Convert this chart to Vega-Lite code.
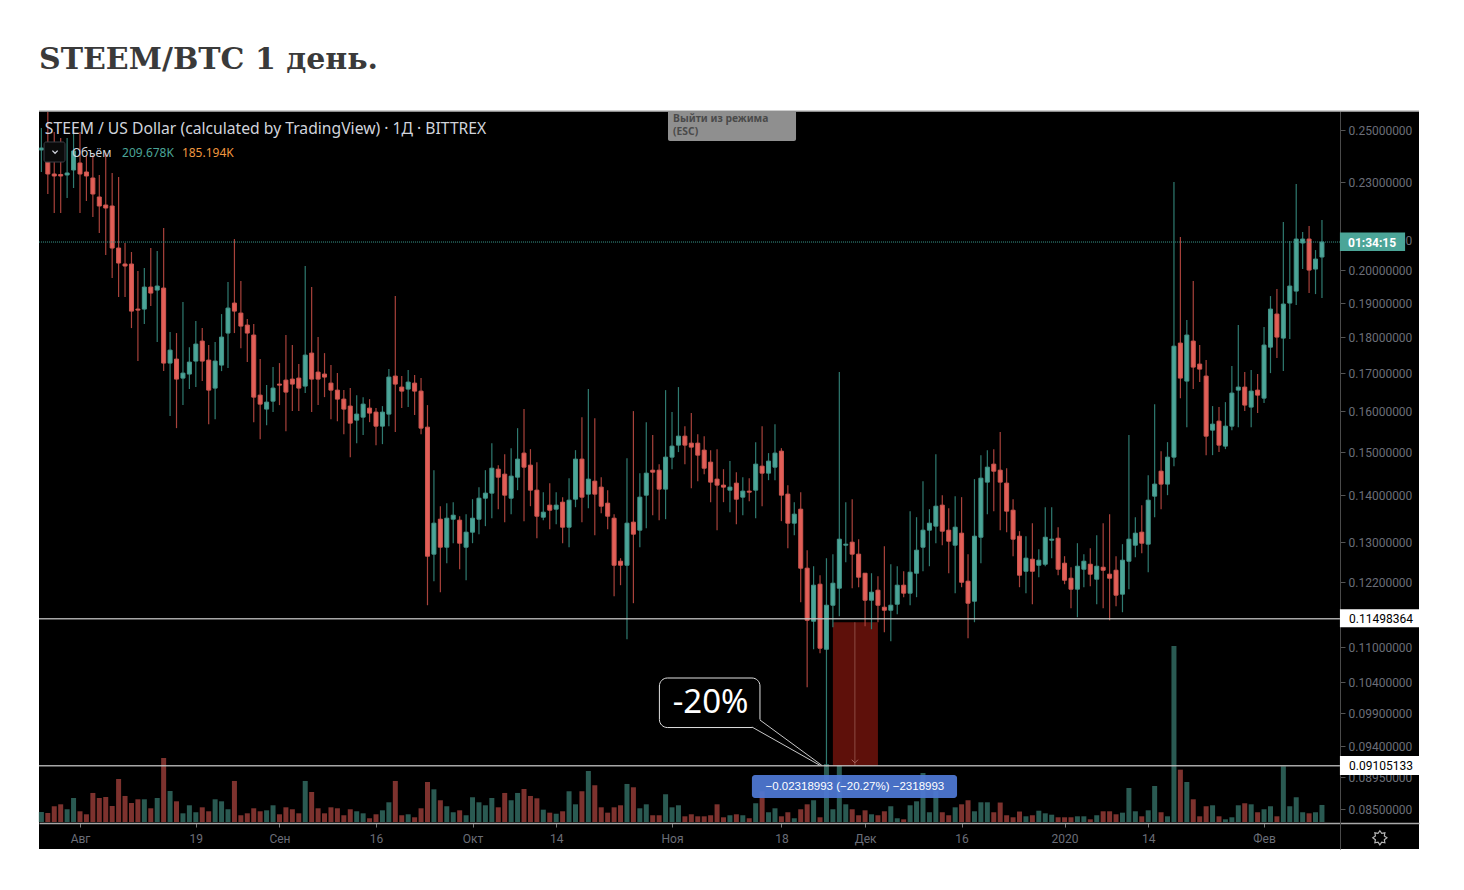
{
"$schema":"https://vega.github.io/schema/vega-lite/v6.json",
"autosize":"none",
"padding":{"left":39,"top":111,"right":45,"bottom":41},
"width":1380,
"height":738,
"background":"#ffffff",
"view":{"fill":"#000000","stroke":null},
"title":{"text":"STEEM/BTC 1 день.","anchor":"start","frame":"group","font":"DejaVu Serif","fontSize":30,"fontWeight":"bold","color":"#3a3a3a","offset":35},
"datasets":{"candles":[
{"date":"2019-07-26","open":0.24218,"high":0.2508,"low":0.23386,"close":0.24295,"volume":123},
{"date":"2019-07-27","open":0.2376,"high":0.25726,"low":0.22582,"close":0.23312,"volume":111},
{"date":"2019-07-28","open":0.23312,"high":0.2492,"low":0.2191,"close":0.23238,"volume":194},
{"date":"2019-07-29","open":0.23294,"high":0.24684,"low":0.2191,"close":0.23238,"volume":218},
{"date":"2019-07-30","open":0.23275,"high":0.24684,"low":0.2244,"close":0.23349,"volume":157},
{"date":"2019-07-31","open":0.2346,"high":0.2512,"low":0.22798,"close":0.2418,"volume":296},
{"date":"2019-08-01","open":0.23723,"high":0.2492,"low":0.2191,"close":0.23312,"volume":132},
{"date":"2019-08-02","open":0.23386,"high":0.24027,"low":0.22333,"close":0.23238,"volume":95},
{"date":"2019-08-03","open":0.23164,"high":0.24027,"low":0.21772,"close":0.22582,"volume":358},
{"date":"2019-08-04","open":0.22476,"high":0.23275,"low":0.21224,"close":0.22156,"volume":296},
{"date":"2019-08-05","open":0.22191,"high":0.24104,"low":0.20494,"close":0.22085,"volume":308},
{"date":"2019-08-06","open":0.22156,"high":0.23349,"low":0.19759,"close":0.20725,"volume":197},
{"date":"2019-08-07","open":0.20725,"high":0.23201,"low":0.19171,"close":0.20237,"volume":530},
{"date":"2019-08-08","open":0.20205,"high":0.20891,"low":0.19171,"close":0.20141,"volume":321},
{"date":"2019-08-09","open":0.20205,"high":0.20594,"low":0.1825,"close":0.18749,"volume":234},
{"date":"2019-08-10","open":0.18809,"high":0.1998,"low":0.17318,"close":0.18779,"volume":280},
{"date":"2019-08-11","open":0.18809,"high":0.20076,"low":0.18366,"close":0.19479,"volume":280},
{"date":"2019-08-12","open":0.19479,"high":0.20725,"low":0.189,"close":0.19294,"volume":169},
{"date":"2019-08-13","open":0.19386,"high":0.20626,"low":0.17849,"close":0.1951,"volume":296},
{"date":"2019-08-14","open":0.19448,"high":0.21394,"low":0.17044,"close":0.17263,"volume":789},
{"date":"2019-08-15","open":0.17263,"high":0.18134,"low":0.15868,"close":0.17622,"volume":382},
{"date":"2019-08-16","open":0.17372,"high":0.18106,"low":0.15568,"close":0.16829,"volume":255},
{"date":"2019-08-17","open":0.16856,"high":0.1902,"low":0.16148,"close":0.1699,"volume":107},
{"date":"2019-08-18","open":0.16964,"high":0.17705,"low":0.16564,"close":0.1729,"volume":206},
{"date":"2019-08-19","open":0.17318,"high":0.18454,"low":0.16617,"close":0.17792,"volume":120},
{"date":"2019-08-20","open":0.17877,"high":0.1825,"low":0.16776,"close":0.17318,"volume":181},
{"date":"2019-08-21","open":0.17345,"high":0.17763,"low":0.15667,"close":0.16537,"volume":132},
{"date":"2019-08-22","open":0.1659,"high":0.17849,"low":0.15792,"close":0.17318,"volume":280},
{"date":"2019-08-23","open":0.17208,"high":0.18661,"low":0.17044,"close":0.17991,"volume":255},
{"date":"2019-08-24","open":0.18106,"high":0.19635,"low":0.17126,"close":0.18839,"volume":157},
{"date":"2019-08-25","open":0.1899,"high":0.21023,"low":0.18106,"close":0.18749,"volume":506},
{"date":"2019-08-26","open":0.1869,"high":0.19666,"low":0.17678,"close":0.18308,"volume":83},
{"date":"2019-08-27","open":0.18337,"high":0.18513,"low":0.1729,"close":0.18106,"volume":107},
{"date":"2019-08-28","open":0.18049,"high":0.18366,"low":0.15717,"close":0.16354,"volume":169},
{"date":"2019-08-29","open":0.16406,"high":0.17372,"low":0.15298,"close":0.16173,"volume":132},
{"date":"2019-08-30","open":0.16046,"high":0.16669,"low":0.15642,"close":0.16225,"volume":144},
{"date":"2019-08-31","open":0.1625,"high":0.17153,"low":0.15969,"close":0.1659,"volume":206},
{"date":"2019-09-01","open":0.16696,"high":0.17263,"low":0.16148,"close":0.16669,"volume":95},
{"date":"2019-09-02","open":0.16802,"high":0.18049,"low":0.15494,"close":0.16485,"volume":181},
{"date":"2019-09-03","open":0.16829,"high":0.17763,"low":0.15995,"close":0.16696,"volume":157},
{"date":"2019-09-04","open":0.16856,"high":0.17235,"low":0.15995,"close":0.1659,"volume":107},
{"date":"2019-09-05","open":0.16643,"high":0.20141,"low":0.16459,"close":0.17483,"volume":506},
{"date":"2019-09-06","open":0.17539,"high":0.19479,"low":0.15969,"close":0.16829,"volume":370},
{"date":"2019-09-07","open":0.17017,"high":0.17991,"low":0.16148,"close":0.16829,"volume":169},
{"date":"2019-09-08","open":0.16964,"high":0.17539,"low":0.16354,"close":0.16883,"volume":107},
{"date":"2019-09-09","open":0.16722,"high":0.17208,"low":0.15792,"close":0.16537,"volume":181},
{"date":"2019-09-10","open":0.16537,"high":0.1699,"low":0.15742,"close":0.16302,"volume":169},
{"date":"2019-09-11","open":0.16302,"high":0.16537,"low":0.1542,"close":0.16046,"volume":83},
{"date":"2019-09-12","open":0.16123,"high":0.1659,"low":0.14867,"close":0.15692,"volume":157},
{"date":"2019-09-13","open":0.15767,"high":0.16406,"low":0.15201,"close":0.15919,"volume":132},
{"date":"2019-09-14","open":0.15842,"high":0.16354,"low":0.15396,"close":0.16173,"volume":107},
{"date":"2019-09-15","open":0.16071,"high":0.16302,"low":0.15717,"close":0.15944,"volume":46},
{"date":"2019-09-16","open":0.15969,"high":0.16071,"low":0.15153,"close":0.15617,"volume":95},
{"date":"2019-09-17","open":0.15617,"high":0.16123,"low":0.15177,"close":0.15969,"volume":144},
{"date":"2019-09-18","open":0.15919,"high":0.17098,"low":0.15617,"close":0.16883,"volume":243},
{"date":"2019-09-19","open":0.1691,"high":0.19202,"low":0.1547,"close":0.16696,"volume":506},
{"date":"2019-09-20","open":0.16617,"high":0.1691,"low":0.16071,"close":0.16511,"volume":83},
{"date":"2019-09-21","open":0.16564,"high":0.17071,"low":0.16097,"close":0.16749,"volume":95},
{"date":"2019-09-22","open":0.16722,"high":0.16937,"low":0.15894,"close":0.16511,"volume":58},
{"date":"2019-09-23","open":0.16511,"high":0.16856,"low":0.1542,"close":0.15568,"volume":169},
{"date":"2019-09-24","open":0.15592,"high":0.16148,"low":0.1175,"close":0.12702,"volume":493},
{"date":"2019-09-25","open":0.12743,"high":0.14562,"low":0.12207,"close":0.13386,"volume":403},
{"date":"2019-09-26","open":0.13471,"high":0.13752,"low":0.11996,"close":0.12885,"volume":268},
{"date":"2019-09-27","open":0.12885,"high":0.13818,"low":0.12561,"close":0.13492,"volume":194},
{"date":"2019-09-28","open":0.13471,"high":0.1384,"low":0.12967,"close":0.13557,"volume":120},
{"date":"2019-09-29","open":0.1345,"high":0.13535,"low":0.12442,"close":0.12967,"volume":144},
{"date":"2019-09-30","open":0.12885,"high":0.13579,"low":0.12226,"close":0.13196,"volume":83},
{"date":"2019-10-01","open":0.13196,"high":0.13906,"low":0.12967,"close":0.13492,"volume":305},
{"date":"2019-10-02","open":0.13471,"high":0.14175,"low":0.13154,"close":0.13928,"volume":243},
{"date":"2019-10-03","open":0.13928,"high":0.14562,"low":0.13323,"close":0.1404,"volume":206},
{"date":"2019-10-04","open":0.1404,"high":0.15201,"low":0.13492,"close":0.14608,"volume":296},
{"date":"2019-10-05","open":0.14585,"high":0.14679,"low":0.13687,"close":0.14401,"volume":181},
{"date":"2019-10-06","open":0.1447,"high":0.14938,"low":0.13408,"close":0.13995,"volume":358},
{"date":"2019-10-07","open":0.13928,"high":0.15081,"low":0.13579,"close":0.14424,"volume":268},
{"date":"2019-10-08","open":0.14401,"high":0.15567,"low":0.14107,"close":0.1482,"volume":358},
{"date":"2019-10-09","open":0.14962,"high":0.16046,"low":0.13429,"close":0.14632,"volume":407},
{"date":"2019-10-10","open":0.14679,"high":0.15057,"low":0.13752,"close":0.14107,"volume":321},
{"date":"2019-10-11","open":0.14107,"high":0.14749,"low":0.13071,"close":0.13535,"volume":292},
{"date":"2019-10-12","open":0.13514,"high":0.14062,"low":0.1345,"close":0.13622,"volume":152},
{"date":"2019-10-13","open":0.13775,"high":0.14265,"low":0.13259,"close":0.13665,"volume":115},
{"date":"2019-10-14","open":0.13687,"high":0.14062,"low":0.13365,"close":0.13775,"volume":102},
{"date":"2019-10-15","open":0.1384,"high":0.13951,"low":0.12967,"close":0.13301,"volume":132},
{"date":"2019-10-16","open":0.13301,"high":0.14378,"low":0.12885,"close":0.13884,"volume":379},
{"date":"2019-10-17","open":0.13906,"high":0.15033,"low":0.1373,"close":0.1482,"volume":218},
{"date":"2019-10-18","open":0.1482,"high":0.15842,"low":0.13408,"close":0.13951,"volume":379},
{"date":"2019-10-19","open":0.14018,"high":0.16564,"low":0.13708,"close":0.14356,"volume":629},
{"date":"2019-10-20","open":0.1431,"high":0.15817,"low":0.13133,"close":0.14018,"volume":453},
{"date":"2019-10-21","open":0.14175,"high":0.14401,"low":0.136,"close":0.13752,"volume":181},
{"date":"2019-10-22","open":0.13818,"high":0.14107,"low":0.13259,"close":0.13535,"volume":115},
{"date":"2019-10-23","open":0.13492,"high":0.13579,"low":0.1192,"close":0.12521,"volume":181},
{"date":"2019-10-24","open":0.12601,"high":0.12662,"low":0.1213,"close":0.12521,"volume":206},
{"date":"2019-10-25","open":0.12521,"high":0.14843,"low":0.11132,"close":0.13386,"volume":469},
{"date":"2019-10-26","open":0.13408,"high":0.15995,"low":0.11788,"close":0.13154,"volume":428},
{"date":"2019-10-27","open":0.13238,"high":0.14493,"low":0.12885,"close":0.13951,"volume":169},
{"date":"2019-10-28","open":0.13995,"high":0.15717,"low":0.1328,"close":0.14493,"volume":218},
{"date":"2019-10-29","open":0.14562,"high":0.15396,"low":0.13557,"close":0.14516,"volume":83},
{"date":"2019-10-30","open":0.14562,"high":0.14702,"low":0.1345,"close":0.1413,"volume":83},
{"date":"2019-10-31","open":0.1413,"high":0.16537,"low":0.13471,"close":0.14867,"volume":342},
{"date":"2019-11-01","open":0.14867,"high":0.15969,"low":0.14585,"close":0.15129,"volume":181},
{"date":"2019-11-02","open":0.15153,"high":0.16617,"low":0.14986,"close":0.15371,"volume":206},
{"date":"2019-11-03","open":0.15371,"high":0.15617,"low":0.14702,"close":0.15153,"volume":70},
{"date":"2019-11-04","open":0.15201,"high":0.15944,"low":0.14152,"close":0.15105,"volume":95},
{"date":"2019-11-05","open":0.15201,"high":0.1542,"low":0.1431,"close":0.14914,"volume":70},
{"date":"2019-11-06","open":0.15033,"high":0.15371,"low":0.1447,"close":0.14608,"volume":70},
{"date":"2019-11-07","open":0.14749,"high":0.15033,"low":0.1384,"close":0.14288,"volume":83},
{"date":"2019-11-08","open":0.14356,"high":0.15057,"low":0.13238,"close":0.1422,"volume":218},
{"date":"2019-11-09","open":0.1422,"high":0.14585,"low":0.1384,"close":0.14175,"volume":58},
{"date":"2019-11-10","open":0.14107,"high":0.14773,"low":0.13622,"close":0.14175,"volume":83},
{"date":"2019-11-11","open":0.14265,"high":0.14516,"low":0.13365,"close":0.13906,"volume":95},
{"date":"2019-11-12","open":0.13951,"high":0.14401,"low":0.13557,"close":0.14085,"volume":83},
{"date":"2019-11-13","open":0.14085,"high":0.14378,"low":0.13862,"close":0.14062,"volume":46},
{"date":"2019-11-14","open":0.14107,"high":0.15225,"low":0.13492,"close":0.14702,"volume":231},
{"date":"2019-11-15","open":0.14655,"high":0.15617,"low":0.13752,"close":0.14493,"volume":379},
{"date":"2019-11-16","open":0.14493,"high":0.14962,"low":0.14333,"close":0.14773,"volume":120},
{"date":"2019-11-17","open":0.14632,"high":0.15667,"low":0.14333,"close":0.14962,"volume":169},
{"date":"2019-11-18","open":0.15009,"high":0.15081,"low":0.13429,"close":0.13995,"volume":70},
{"date":"2019-11-19","open":0.14018,"high":0.1422,"low":0.12865,"close":0.13386,"volume":120},
{"date":"2019-11-20","open":0.13386,"high":0.1384,"low":0.13133,"close":0.13579,"volume":46},
{"date":"2019-11-21","open":0.13687,"high":0.14062,"low":0.11807,"close":0.12462,"volume":157},
{"date":"2019-11-22","open":0.12462,"high":0.12824,"low":0.10314,"close":0.11473,"volume":218},
{"date":"2019-11-23","open":0.11455,"high":0.12501,"low":0.10956,"close":0.1213,"volume":268},
{"date":"2019-11-24","open":0.12149,"high":0.12324,"low":0.10887,"close":0.10974,"volume":58},
{"date":"2019-11-25","open":0.10956,"high":0.12661,"low":0.09087,"close":0.1175,"volume":715},
{"date":"2019-11-26","open":0.1175,"high":0.12743,"low":0.11346,"close":0.12168,"volume":157},
{"date":"2019-11-27","open":0.12072,"high":0.17017,"low":0.11547,"close":0.1305,"volume":699},
{"date":"2019-11-28","open":0.12926,"high":0.1384,"low":0.12581,"close":0.12947,"volume":218},
{"date":"2019-11-29","open":0.12988,"high":0.13906,"low":0.12072,"close":0.12743,"volume":157},
{"date":"2019-11-30","open":0.12743,"high":0.1305,"low":0.12091,"close":0.12285,"volume":83},
{"date":"2019-12-01","open":0.12363,"high":0.12363,"low":0.11365,"close":0.11844,"volume":144},
{"date":"2019-12-02","open":0.11844,"high":0.12363,"low":0.1131,"close":0.11996,"volume":95},
{"date":"2019-12-03","open":0.12034,"high":0.12304,"low":0.11437,"close":0.1175,"volume":83},
{"date":"2019-12-04","open":0.11713,"high":0.12906,"low":0.11256,"close":0.11657,"volume":132},
{"date":"2019-12-05","open":0.11657,"high":0.12541,"low":0.11096,"close":0.1175,"volume":194},
{"date":"2019-12-06","open":0.11769,"high":0.12501,"low":0.11583,"close":0.1213,"volume":46},
{"date":"2019-12-07","open":0.1213,"high":0.12402,"low":0.11901,"close":0.11977,"volume":33},
{"date":"2019-12-08","open":0.11977,"high":0.13644,"low":0.1175,"close":0.12383,"volume":206},
{"date":"2019-12-09","open":0.12363,"high":0.13514,"low":0.11901,"close":0.12824,"volume":255},
{"date":"2019-12-10","open":0.12885,"high":0.1431,"low":0.12402,"close":0.13238,"volume":604},
{"date":"2019-12-11","open":0.13238,"high":0.13687,"low":0.12501,"close":0.13386,"volume":120},
{"date":"2019-12-12","open":0.13323,"high":0.14938,"low":0.12967,"close":0.13752,"volume":382},
{"date":"2019-12-13","open":0.13775,"high":0.13995,"low":0.12926,"close":0.13217,"volume":120},
{"date":"2019-12-14","open":0.13238,"high":0.13708,"low":0.12363,"close":0.13008,"volume":83},
{"date":"2019-12-15","open":0.12926,"high":0.13973,"low":0.11977,"close":0.13301,"volume":181},
{"date":"2019-12-16","open":0.13175,"high":0.13951,"low":0.12091,"close":0.12187,"volume":218},
{"date":"2019-12-17","open":0.12207,"high":0.12743,"low":0.1115,"close":0.11788,"volume":268},
{"date":"2019-12-18","open":0.11825,"high":0.14356,"low":0.11437,"close":0.13112,"volume":132},
{"date":"2019-12-19","open":0.13091,"high":0.14914,"low":0.12561,"close":0.14378,"volume":243},
{"date":"2019-12-20","open":0.14288,"high":0.15033,"low":0.13579,"close":0.14632,"volume":243},
{"date":"2019-12-21","open":0.14702,"high":0.15057,"low":0.13644,"close":0.14539,"volume":120},
{"date":"2019-12-22","open":0.14562,"high":0.1547,"low":0.13238,"close":0.14288,"volume":240},
{"date":"2019-12-23","open":0.14265,"high":0.14608,"low":0.13196,"close":0.13644,"volume":83},
{"date":"2019-12-24","open":0.13665,"high":0.13906,"low":0.12702,"close":0.1305,"volume":58},
{"date":"2019-12-25","open":0.13112,"high":0.13217,"low":0.12091,"close":0.12324,"volume":129},
{"date":"2019-12-26","open":0.12402,"high":0.13112,"low":0.11977,"close":0.12662,"volume":70},
{"date":"2019-12-27","open":0.12641,"high":0.13386,"low":0.11769,"close":0.12402,"volume":83},
{"date":"2019-12-28","open":0.12521,"high":0.12844,"low":0.12285,"close":0.12621,"volume":139},
{"date":"2019-12-29","open":0.12541,"high":0.1373,"low":0.12501,"close":0.1309,"volume":107},
{"date":"2019-12-30","open":0.13029,"high":0.1373,"low":0.12662,"close":0.1305,"volume":90},
{"date":"2019-12-31","open":0.1307,"high":0.13301,"low":0.12324,"close":0.12442,"volume":58},
{"date":"2020-01-01","open":0.12561,"high":0.12702,"low":0.12149,"close":0.12226,"volume":58},
{"date":"2020-01-02","open":0.12265,"high":0.12481,"low":0.11694,"close":0.12053,"volume":58},
{"date":"2020-01-03","open":0.12053,"high":0.12967,"low":0.11528,"close":0.12501,"volume":70},
{"date":"2020-01-04","open":0.12442,"high":0.12743,"low":0.12091,"close":0.12601,"volume":70},
{"date":"2020-01-05","open":0.12541,"high":0.12865,"low":0.1211,"close":0.12344,"volume":33},
{"date":"2020-01-06","open":0.12246,"high":0.13133,"low":0.11769,"close":0.12501,"volume":83},
{"date":"2020-01-07","open":0.12481,"high":0.13386,"low":0.11694,"close":0.12422,"volume":132},
{"date":"2020-01-08","open":0.12344,"high":0.13579,"low":0.11473,"close":0.12265,"volume":132},
{"date":"2020-01-09","open":0.12422,"high":0.12702,"low":0.11731,"close":0.11939,"volume":95},
{"date":"2020-01-10","open":0.11958,"high":0.12947,"low":0.1162,"close":0.12621,"volume":115},
{"date":"2020-01-11","open":0.12601,"high":0.15396,"low":0.12053,"close":0.1305,"volume":419},
{"date":"2020-01-12","open":0.12926,"high":0.13514,"low":0.12682,"close":0.13175,"volume":132},
{"date":"2020-01-13","open":0.13196,"high":0.13775,"low":0.12763,"close":0.12967,"volume":70},
{"date":"2020-01-14","open":0.12947,"high":0.14447,"low":0.12383,"close":0.13884,"volume":144},
{"date":"2020-01-15","open":0.13973,"high":0.16173,"low":0.13514,"close":0.14243,"volume":444},
{"date":"2020-01-16","open":0.14539,"high":0.15009,"low":0.13687,"close":0.14243,"volume":120},
{"date":"2020-01-17","open":0.14243,"high":0.15225,"low":0.13995,"close":0.14867,"volume":70},
{"date":"2020-01-18","open":0.14867,"high":0.23016,"low":0.14655,"close":0.17733,"volume":2170},
{"date":"2020-01-19","open":0.1782,"high":0.2109,"low":0.16328,"close":0.16856,"volume":645},
{"date":"2020-01-20","open":0.16776,"high":0.18483,"low":0.15592,"close":0.18049,"volume":493},
{"date":"2020-01-21","open":0.17877,"high":0.19666,"low":0.16564,"close":0.17153,"volume":280},
{"date":"2020-01-22","open":0.17235,"high":0.17763,"low":0.16749,"close":0.17098,"volume":70},
{"date":"2020-01-23","open":0.1691,"high":0.17345,"low":0.14914,"close":0.15371,"volume":194},
{"date":"2020-01-24","open":0.15518,"high":0.16123,"low":0.14914,"close":0.15667,"volume":206},
{"date":"2020-01-25","open":0.15742,"high":0.16097,"low":0.14986,"close":0.15153,"volume":70},
{"date":"2020-01-26","open":0.15129,"high":0.16225,"low":0.15057,"close":0.15617,"volume":33},
{"date":"2020-01-27","open":0.15617,"high":0.1718,"low":0.15518,"close":0.16459,"volume":58},
{"date":"2020-01-28","open":0.16537,"high":0.18337,"low":0.15592,"close":0.16617,"volume":206},
{"date":"2020-01-29","open":0.16617,"high":0.17017,"low":0.15995,"close":0.16148,"volume":231},
{"date":"2020-01-30","open":0.16097,"high":0.17071,"low":0.15592,"close":0.16511,"volume":218},
{"date":"2020-01-31","open":0.16537,"high":0.16964,"low":0.15944,"close":0.16406,"volume":120},
{"date":"2020-02-01","open":0.16328,"high":0.18279,"low":0.16199,"close":0.17763,"volume":157},
{"date":"2020-02-02","open":0.17705,"high":0.19202,"low":0.1699,"close":0.18809,"volume":194},
{"date":"2020-02-03","open":0.18661,"high":0.19417,"low":0.174,"close":0.17991,"volume":70},
{"date":"2020-02-04","open":0.17962,"high":0.21599,"low":0.17044,"close":0.1896,"volume":687},
{"date":"2020-02-05","open":0.1899,"high":0.20957,"low":0.17934,"close":0.1951,"volume":194},
{"date":"2020-02-06","open":0.19355,"high":0.22945,"low":0.18929,"close":0.21023,"volume":305},
{"date":"2020-02-07","open":0.20891,"high":0.21259,"low":0.20044,"close":0.21023,"volume":120},
{"date":"2020-02-08","open":0.21023,"high":0.21462,"low":0.19294,"close":0.20012,"volume":107},
{"date":"2020-02-09","open":0.20044,"high":0.20659,"low":0.19263,"close":0.20365,"volume":120},
{"date":"2020-02-10","open":0.20431,"high":0.21668,"low":0.19141,"close":0.20924,"volume":210}
]},
"data":{"name":"candles"},
"encoding":{
"x":{"field":"date","type":"temporal","title":null,
"scale":{"type":"utc","domain":[1564067232000,1582595712000],"nice":false,"padding":0},
"axis":{"orient":"bottom","offset":-26,"grid":false,"title":null,"zindex":0,
"values":[1564617600000,1566172800000,1567296000000,1568592000000,1569888000000,1571011200000,1572566400000,1574035200000,1575158400000,1576454400000,1577836800000,1578960000000,1580515200000],
"labelExpr":"utcdate(datum.value)==1 ? (utcmonth(datum.value)==0 ? '2020' : ['Янв','Фев','Мар','Апр','Май','Июн','Июл','Авг','Сен','Окт','Ноя','Дек'][utcmonth(datum.value)]) : ''+utcdate(datum.value)",
"labelFont":"Roboto","labelFontSize":12,"labelColor":"#6b6e78","labelPadding":6,"labelFlush":false,"labelOverlap":false,
"tickColor":"#777777","tickSize":4,"domainColor":"#a8a8a8","domainWidth":1.5}}
},
"resolve":{"scale":{"y":"independent"}},
"layer":[
{"mark":{"type":"bar","size":5},
"encoding":{
"y":{"field":"volume","type":"quantitative","stack":null,"title":null,"axis":null,"scale":{"domain":[-333,8767],"nice":false,"zero":false}},
"color":{"condition":{"test":"datum.close>=datum.open","value":"#2a5a52"},"value":"#7d322e"}}},
{"encoding":{
"y":{"field":"high","type":"quantitative","title":null,
"scale":{"type":"log","domain":[0.07977,0.25766],"nice":false},
"axis":{"orient":"right","offset":-79,"grid":false,"title":null,"zindex":0,"values":[0.25,0.23,0.21,0.2,0.19,0.18,0.17,0.16,0.15,0.14,0.13,0.122,0.11,0.104,0.099,0.094,0.0895,0.085],"format":".8f",
"labelFont":"Roboto","labelFontSize":12,"labelColor":"#6b6e78","labelPadding":3,"labelOffset":0.5,"labelOverlap":false,"labelFlush":false,"labelBound":false,
"tickColor":"#555555","tickSize":5,"domainColor":"#4a4a4a","domainWidth":1}}
},
"layer":[
{"data":{"values":[{"start":"2019-11-26","end":"2019-12-03","top":0.11437,"bottom":0.09105}]},
"mark":{"type":"rect","color":"#5e100a"},
"encoding":{"x":{"field":"start","type":"temporal"},"x2":{"field":"end"},"y":{"field":"top","type":"quantitative"},"y2":{"field":"bottom"}}},
{"mark":{"type":"rule","strokeWidth":1.2},
"encoding":{"y":{"field":"high","type":"quantitative"},"y2":{"field":"low"},
"color":{"condition":{"test":"datum.close>=datum.open","value":"#2f7a70"},"value":"#a8423b"}}},
{"mark":{"type":"bar","size":4,"strokeWidth":1},
"encoding":{"y":{"field":"open","type":"quantitative"},"y2":{"field":"close"},
"color":{"condition":{"test":"datum.close>=datum.open","value":"#4ba598"},"value":"#e25f57"},
"stroke":{"condition":{"test":"datum.close>=datum.open","value":"#439488"},"value":"#cc5650"}}},
{"data":{"values":[{"at":"2019-11-29T10:00:00Z","top":0.11437,"bottom":0.09105}]},
"mark":{"type":"rule","color":"#8c4a44","strokeWidth":1},
"encoding":{"x":{"field":"at","type":"temporal"},"y":{"field":"top","type":"quantitative"},"y2":{"field":"bottom"}}},
{"data":{"values":[{"at":"2019-11-29T10:00:00Z","price":0.0917}]},
"mark":{"type":"point","shape":"M-1,-0.5L0,0.5L1,-0.5","filled":false,"color":"#a8625c","size":40,"strokeWidth":1,"opacity":1},
"encoding":{"x":{"field":"at","type":"temporal"},"y":{"field":"price","type":"quantitative"}}},
{"data":{"values":[{"start":"2019-07-25T15:00:00Z","end":"2020-02-12T19:00:00Z","price":0.11498364},{"start":"2019-07-25T15:00:00Z","end":"2020-02-12T19:00:00Z","price":0.09105133}]},
"mark":{"type":"rule","color":"#c4c4c4","strokeWidth":1.5,"opacity":0.85},
"encoding":{"x":{"field":"start","type":"temporal"},"x2":{"field":"end"},"y":{"field":"price","type":"quantitative"}}},
{"data":{"values":[{"start":"2019-07-25T15:00:00Z","end":"2020-02-12T19:00:00Z","price":0.20924}]},
"mark":{"type":"rule","color":"#3a9a8f","strokeWidth":1,"strokeDash":[1,1]},
"encoding":{"x":{"field":"start","type":"temporal"},"x2":{"field":"end"},"y":{"field":"price","type":"quantitative"}}},
{"data":{"values":[{"start":"2019-07-25T15:00:00Z","end":"2020-02-25T02:00:00Z","price":0.25766}]},
"mark":{"type":"rule","color":"#bdbdbd","strokeWidth":1.5},
"encoding":{"x":{"field":"start","type":"temporal"},"x2":{"field":"end"},"y":{"field":"price","type":"quantitative"}}},
{"data":{"values":[
{"start":"2019-10-31T09:00:00Z","end":"2019-11-20T06:30:00Z","top":0.25766,"bottom":0.24567}]},
"mark":{"type":"rect","color":"#8f8f8f","cornerRadiusBottomLeft":2,"cornerRadiusBottomRight":2},
"encoding":{"x":{"field":"start","type":"temporal"},"x2":{"field":"end"},"y":{"field":"top","type":"quantitative"},"y2":{"field":"bottom"}}},
{"data":{"values":[{"start":"2019-07-26T10:00:00Z","end":"2019-07-29T16:00:00Z","top":0.24528,"bottom":0.2376}]},
"mark":{"type":"rect","color":"#0a0a0a","stroke":"#3a3d45","strokeWidth":1,"cornerRadius":2},
"encoding":{"x":{"field":"start","type":"temporal"},"x2":{"field":"end"},"y":{"field":"top","type":"quantitative"},"y2":{"field":"bottom"}}},
{"data":{"values":[{"at":"2019-07-28T03:00:00Z","price":0.24142}]},
"mark":{"type":"point","shape":"M-1,-0.5L0,0.5L1,-0.5","filled":false,"color":"#d1d4dc","size":28,"strokeWidth":1.3,"opacity":1},
"encoding":{"x":{"field":"at","type":"temporal"},"y":{"field":"price","type":"quantitative"}}},
{"data":{"values":[{"start":"2020-02-12T19:00:00Z","end":"2020-02-22T22:00:00Z","top":0.2124,"bottom":0.20626}]},
"mark":{"type":"rect","color":"#4ba598"},
"encoding":{"x":{"field":"start","type":"temporal"},"x2":{"field":"end"},"y":{"field":"top","type":"quantitative"},"y2":{"field":"bottom"}}},
{"data":{"values":[{"start":"2020-02-12T19:00:00Z","end":"2020-02-25T02:00:00Z","top":0.11675,"bottom":0.11346},{"start":"2020-02-12T19:00:00Z","end":"2020-02-25T02:00:00Z","top":0.09247,"bottom":0.08972}]},
"mark":{"type":"rect","color":"#ffffff"},
"encoding":{"x":{"field":"start","type":"temporal"},"x2":{"field":"end"},"y":{"field":"top","type":"quantitative"},"y2":{"field":"bottom"}}},
{"data":{"values":[{"start":"2019-11-13T10:00:00Z","end":"2019-12-15T07:00:00Z","top":0.08972,"bottom":0.0865}]},
"mark":{"type":"rect","color":"#4f79d4","opacity":0.93,"cornerRadius":3},
"encoding":{"x":{"field":"start","type":"temporal"},"x2":{"field":"end"},"y":{"field":"top","type":"quantitative"},"y2":{"field":"bottom"}}},
{"data":{"values":[{"start":"2019-10-30T01:00:00Z","end":"2019-11-14T16:00:00Z","top":0.10467,"bottom":0.09675}]},
"mark":{"type":"rect","color":"#000000","stroke":"#e0e0e0","strokeWidth":1,"cornerRadius":8},
"encoding":{"x":{"field":"start","type":"temporal"},"x2":{"field":"end"},"y":{"field":"top","type":"quantitative"},"y2":{"field":"bottom"}}},
{"data":{"values":[{"start":"2019-11-13T10:00:00Z","end":"2019-11-14T16:00:00Z","top":0.09683,"bottom":0.09791}]},
"mark":{"type":"rule","color":"#000000","strokeWidth":6},
"encoding":{"x":{"field":"start","type":"temporal"},"x2":{"field":"end"},"y":{"field":"top","type":"quantitative"},"y2":{"field":"bottom"}}},
{"data":{"values":[{"start":"2019-11-14T16:00:00Z","end":"2019-11-24T07:00:00Z","top":0.09791,"bottom":0.0911},{"start":"2019-11-13T10:00:00Z","end":"2019-11-24T00:00:00Z","top":0.09683,"bottom":0.0911}]},
"mark":{"type":"rule","color":"#c8c8c8","strokeWidth":1},
"encoding":{"x":{"field":"start","type":"temporal"},"x2":{"field":"end"},"y":{"field":"top","type":"quantitative"},"y2":{"field":"bottom"}}},
{"data":{"values":[{"at":"2019-07-26T13:00:00Z","price":0.2504,"label":"STEEM / US Dollar (calculated by TradingView) · 1Д · BITTREX"}]},
"mark":{"type":"text","align":"left","baseline":"middle","font":"Noto Sans","fontSize":15.7,"color":"#d1d4dc"},
"encoding":{"x":{"field":"at","type":"temporal"},"y":{"field":"price","type":"quantitative"},"text":{"field":"label"}}},
{"data":{"values":[{"at":"2019-07-30T18:00:00Z","price":0.24104,"label":"Объём"}]},
"mark":{"type":"text","align":"left","baseline":"middle","font":"Noto Sans","fontSize":12,"color":"#d1d4dc"},
"encoding":{"x":{"field":"at","type":"temporal"},"y":{"field":"price","type":"quantitative"},"text":{"field":"label"}}},
{"data":{"values":[{"at":"2019-08-07T13:00:00Z","price":0.24104,"label":"209.678K"}]},
"mark":{"type":"text","align":"left","baseline":"middle","font":"Noto Sans","fontSize":12,"color":"#4ba598"},
"encoding":{"x":{"field":"at","type":"temporal"},"y":{"field":"price","type":"quantitative"},"text":{"field":"label"}}},
{"data":{"values":[{"at":"2019-08-16T20:00:00Z","price":0.24104,"label":"185.194K"}]},
"mark":{"type":"text","align":"left","baseline":"middle","font":"Noto Sans","fontSize":12,"color":"#f0973f"},
"encoding":{"x":{"field":"at","type":"temporal"},"y":{"field":"price","type":"quantitative"},"text":{"field":"label"}}},
{"data":{"values":[{"at":"2019-11-01T04:00:00Z","price":0.2544,"label":"Выйти из режима"},{"at":"2019-11-01T04:00:00Z","price":0.2492,"label":"(ESC)"}]},
"mark":{"type":"text","align":"left","baseline":"middle","font":"Noto Sans","fontSize":10.3,"fontWeight":"bold","color":"#4a4a4a"},
"encoding":{"x":{"field":"at","type":"temporal"},"y":{"field":"price","type":"quantitative"},"text":{"field":"label"}}},
{"data":{"values":[{"at":"2020-02-17T19:00:00Z","price":0.2089,"label":"01:34:15"}]},
"mark":{"type":"text","align":"center","baseline":"middle","font":"Roboto","fontSize":12,"fontWeight":"bold","color":"#ffffff"},
"encoding":{"x":{"field":"at","type":"temporal"},"y":{"field":"price","type":"quantitative"},"text":{"field":"label"}}},
{"data":{"values":[{"at":"2020-02-14T05:00:00Z","price":0.11498364,"label":"0.11498364"},{"at":"2020-02-14T05:00:00Z","price":0.09105133,"label":"0.09105133"}]},
"mark":{"type":"text","align":"left","baseline":"middle","font":"Roboto","fontSize":12,"color":"#000000"},
"encoding":{"x":{"field":"at","type":"temporal"},"y":{"field":"price","type":"quantitative"},"text":{"field":"label"}}},
{"data":{"values":[{"at":"2019-11-29T10:00:00Z","price":0.08809,"label":"−0.02318993 (−20.27%) −2318993"}]},
"mark":{"type":"text","align":"center","baseline":"middle","font":"Liberation Sans","fontSize":11.5,"color":"#ffffff"},
"encoding":{"x":{"field":"at","type":"temporal"},"y":{"field":"price","type":"quantitative"},"text":{"field":"label"}}},
{"data":{"values":[{"at":"2019-11-07T00:00:00Z","price":0.1006,"label":"-20%"}]},
"mark":{"type":"text","align":"center","baseline":"middle","font":"Noto Sans","fontSize":33,"color":"#ffffff"},
"encoding":{"x":{"field":"at","type":"temporal"},"y":{"field":"price","type":"quantitative"},"text":{"field":"label"}}},
{"data":{"values":[{"at":"2020-02-19T00:00:00Z","price":0.0812}]},
"mark":{"type":"point","shape":"M0,-1L.26,-.63L.71,-.71L.63,-.26L1,0L.63,.26L.71,.71L.26,.63L0,1L-.26,.63L-.71,.71L-.63,.26L-1,0L-.63,-.26L-.71,-.71L-.26,-.63Z","filled":false,"color":"#b5b5b5","size":200,"strokeWidth":1.2,"opacity":1},
"encoding":{"x":{"field":"at","type":"temporal"},"y":{"field":"price","type":"quantitative"}}}
]}
]
}
